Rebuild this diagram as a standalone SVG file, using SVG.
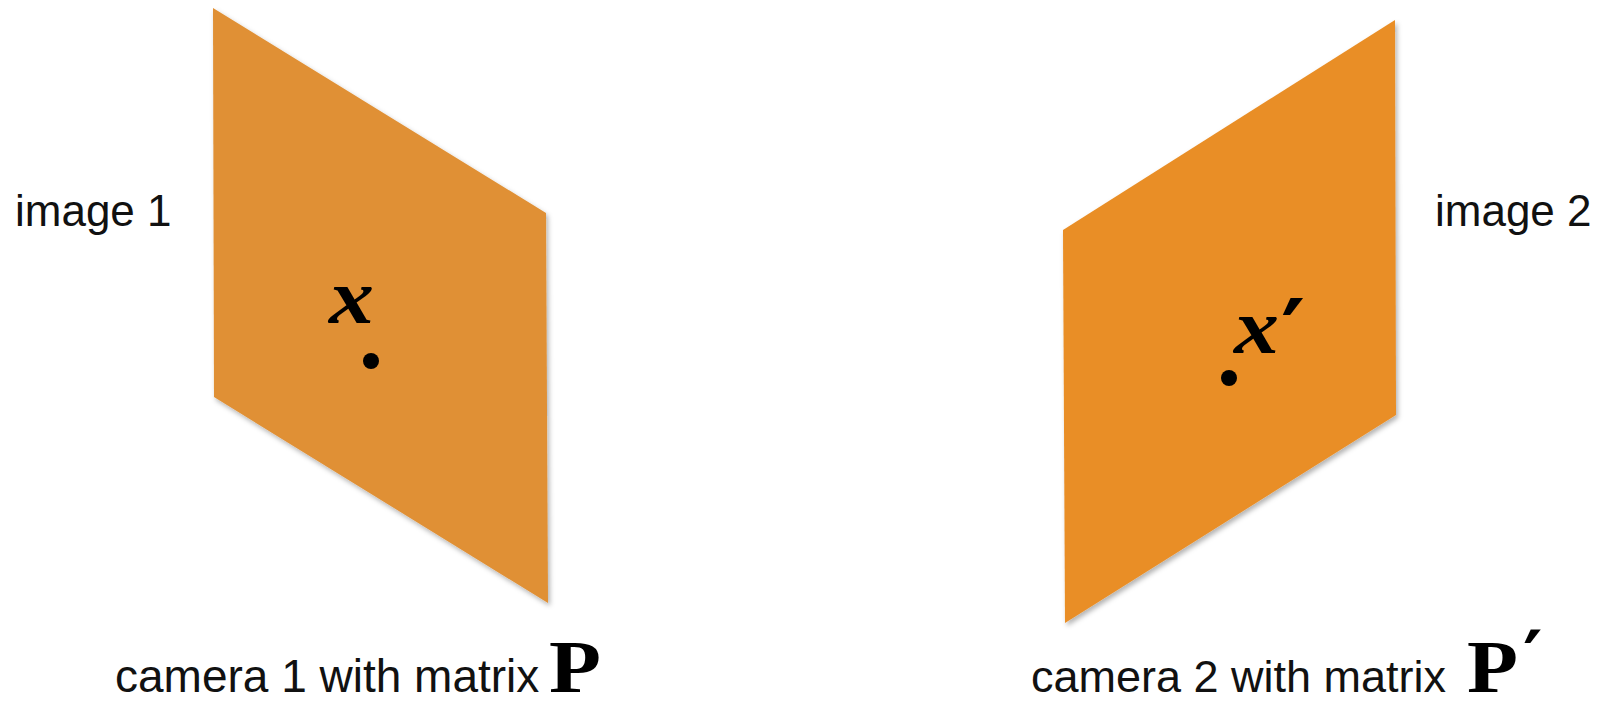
<svg xmlns="http://www.w3.org/2000/svg" width="1606" height="702" viewBox="0 0 1606 702">
  <style>
    .label { font-family: "Liberation Sans", Arial, sans-serif; fill: #111; }
    .math { font-family: "Liberation Serif", "DejaVu Serif", serif; fill: #000; }
    .prime { font-family: "DejaVu Sans", sans-serif; font-weight: bold; fill: #000; }
    .mi { font-style: italic; font-weight: bold; }
    .mb { font-weight: bold; }
    .dot { fill: #000; }
  </style>
  <defs>
    <filter id="shadow" x="-10%" y="-10%" width="130%" height="130%">
      <feDropShadow dx="2" dy="3" stdDeviation="2.5" flood-color="#000" flood-opacity="0.3"/>
    </filter>
  </defs>
  <rect width="1606" height="702" fill="#fff"/>

  <g id="connectors"/>

  <g id="image1">
    <polygon points="213,8 546,213 548,603 214,397" fill="#E09035" filter="url(#shadow)"/>
    <text class="math mi" font-size="78" x="329" y="323" textLength="45" lengthAdjust="spacingAndGlyphs">x</text>
    <circle class="dot" cx="371" cy="361" r="8"/>
    <text class="label" x="15" y="226" font-size="44">image 1</text>
  </g>

  <g id="image2">
    <polygon points="1063,230 1395,20 1396,415 1065,623" fill="#E98E26" filter="url(#shadow)"/>
    <text class="math mi" font-size="78" x="1234" y="353" textLength="45" lengthAdjust="spacingAndGlyphs">x</text>
    <text class="prime" font-size="92" x="1281" y="366">′</text>
    <circle class="dot" cx="1229" cy="378" r="8"/>
    <text class="label" x="1435" y="226" font-size="44">image 2</text>
  </g>

  <g id="camera1">
    <text class="label" x="115" y="692" font-size="46">camera 1 with matrix</text>
    <text class="math mb" font-size="74" x="549" y="692" textLength="52" lengthAdjust="spacingAndGlyphs">P</text>
  </g>

  <g id="camera2">
    <text class="label" x="1031" y="692" font-size="45">camera 2 with matrix</text>
    <text class="math mb" font-size="74" x="1467" y="692" textLength="51" lengthAdjust="spacingAndGlyphs">P</text>
    <text class="prime" font-size="74" x="1523" y="684">′</text>
  </g>
</svg>
